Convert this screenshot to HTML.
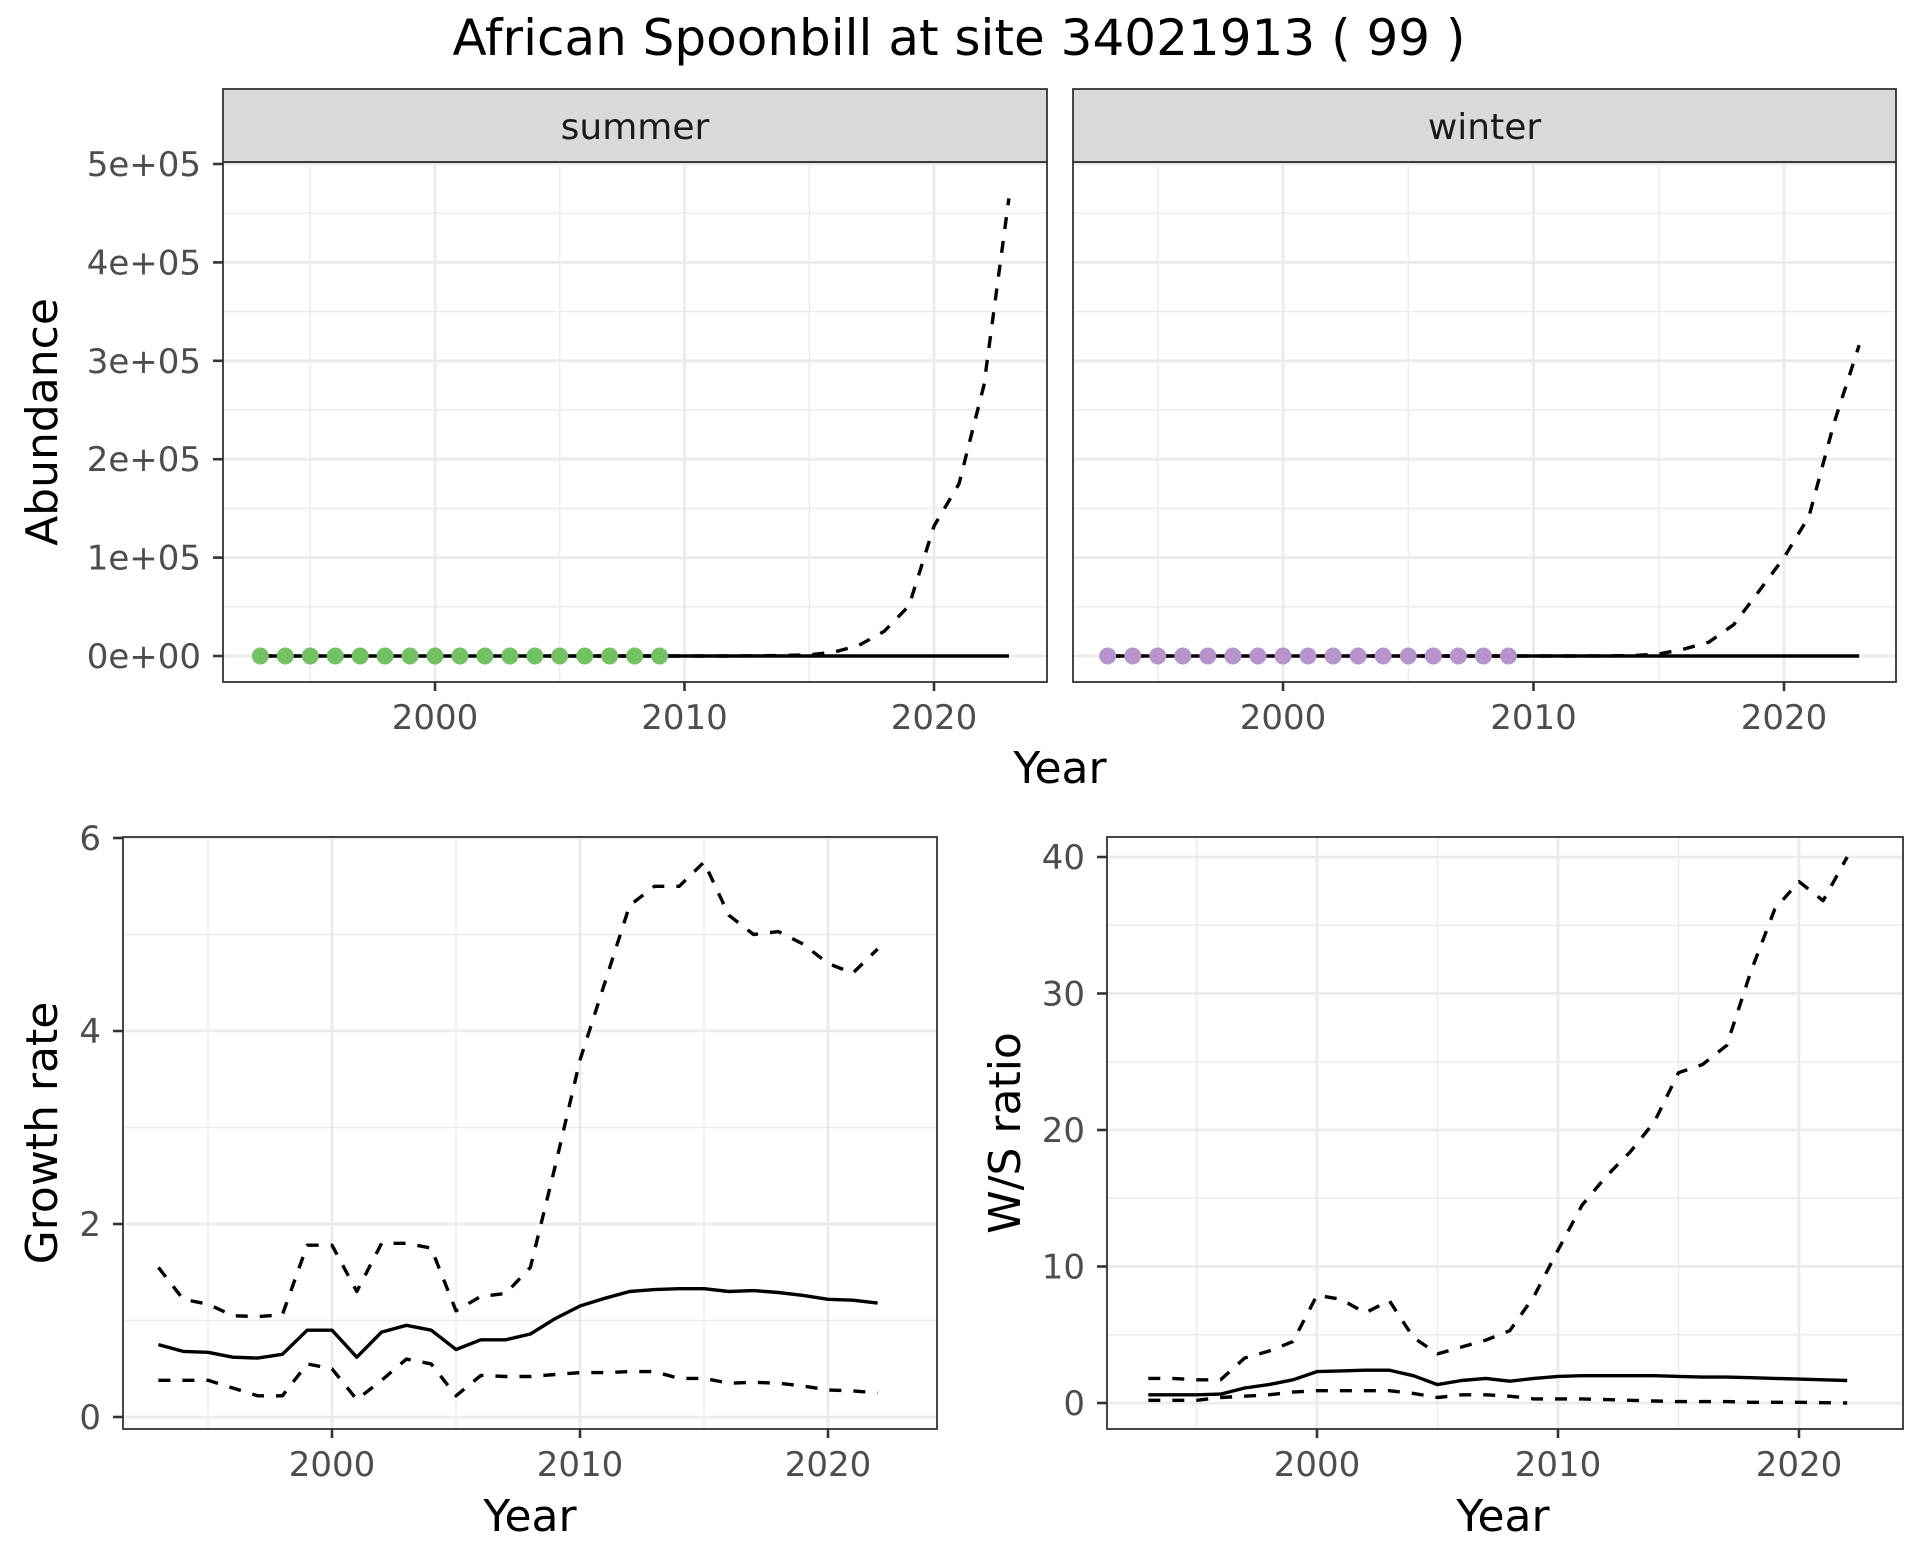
<!DOCTYPE html>
<html><head><meta charset="utf-8"><style>
html,body{margin:0;padding:0;background:#fff;}
svg{display:block;font-family:"DejaVu Sans","Liberation Sans",sans-serif;}
</style></head><body>
<svg id="chart" width="1920" height="1560" viewBox="0 0 1920 1560" xmlns="http://www.w3.org/2000/svg">
<text x="959" y="55" font-size="50" text-anchor="middle" fill="#000">African Spoonbill at site 34021913 ( 99 )</text>
</svg>
<script>
// ---- data ----
const years = [1993,1994,1995,1996,1997,1998,1999,2000,2001,2002,2003,2004,2005,2006,2007,2008,2009,2010,2011,2012,2013,2014,2015,2016,2017,2018,2019,2020,2021,2022];
const abYears = [1993,1994,1995,1996,1997,1998,1999,2000,2001,2002,2003,2004,2005,2006,2007,2008,2009,2010,2011,2012,2013,2014,2015,2016,2017,2018,2019,2020,2021,2022,2023];
const obsYears = [1993,1994,1995,1996,1997,1998,1999,2000,2001,2002,2003,2004,2005,2006,2007,2008,2009];
const obsValues = [0,0,0,0,0,0,0,0,0,0,0,0,0,0,0,0,0];
const summerMean = [0,0,0,0,0,0,0,0,0,0,0,0,0,0,0,0,0,0,0,0,0,0,0,0,0,0,0,0,0,0,0];
const summerUpper = [0,0,0,0,0,0,0,0,0,0,0,0,0,0,0,0,0,0,0,0,200,500,1200,4000,11000,25000,51000,132000,175000,275000,465000];
const winterMean = [0,0,0,0,0,0,0,0,0,0,0,0,0,0,0,0,0,0,0,0,0,0,0,0,0,0,0,0,0,0,0];
const winterUpper = [0,0,0,0,0,0,0,0,0,0,0,0,0,0,0,0,0,0,0,0,100,400,2000,7000,14000,32000,66000,100000,142000,237000,316000];
const growthMean = [0.75,0.68,0.67,0.62,0.61,0.65,0.9,0.9,0.62,0.88,0.95,0.9,0.7,0.8,0.8,0.86,1.02,1.15,1.23,1.3,1.32,1.33,1.33,1.3,1.31,1.29,1.26,1.22,1.21,1.18];
const growthUpper = [1.55,1.22,1.17,1.05,1.04,1.06,1.78,1.78,1.3,1.8,1.8,1.75,1.1,1.25,1.28,1.55,2.6,3.7,4.5,5.3,5.5,5.5,5.75,5.2,5.0,5.03,4.9,4.7,4.6,4.85];
const growthLower = [0.38,0.38,0.38,0.3,0.22,0.22,0.55,0.5,0.18,0.38,0.6,0.55,0.22,0.43,0.42,0.42,0.44,0.46,0.46,0.47,0.47,0.4,0.4,0.35,0.36,0.35,0.32,0.28,0.27,0.25];
const ratioMean = [0.6,0.6,0.6,0.65,1.1,1.35,1.7,2.3,2.35,2.4,2.4,2.0,1.35,1.65,1.8,1.6,1.8,1.95,2.0,2.0,2.0,2.0,1.95,1.9,1.9,1.85,1.8,1.75,1.7,1.65];
const ratioUpper = [1.8,1.8,1.7,1.7,3.3,3.8,4.5,7.9,7.6,6.6,7.5,4.8,3.6,4.1,4.6,5.3,7.8,11.2,14.5,16.6,18.4,20.6,24.2,24.8,26.2,31.6,36.2,38.2,36.8,40];
const ratioLower = [0.2,0.2,0.2,0.4,0.5,0.6,0.8,0.9,0.9,0.9,0.9,0.7,0.4,0.6,0.6,0.5,0.3,0.3,0.3,0.25,0.2,0.15,0.1,0.1,0.1,0.05,0.05,0.05,0.02,0.0];
const yearTicks = [2000,2010,2020];
const yearMinor = [1995,2005,2015];
const abTicks = [0,100000,200000,300000,400000,500000];
const abTickLabels = ["0e+00","1e+05","2e+05","3e+05","4e+05","5e+05"];
const growthTicks = [0,2,4,6];
const ratioTicks = [0,10,20,30,40];

const svg = document.getElementById('chart');
const NS = 'http://www.w3.org/2000/svg';
const TICK_FS = 34, AXIS_FS = 44;
function mk(tag, attrs, parent){
  const e = document.createElementNS(NS, tag);
  for (const k in attrs) e.setAttribute(k, attrs[k]);
  (parent||svg).appendChild(e);
  return e;
}
function scale(d0,d1,r0,r1){ return v => r0 + (v-d0)*(r1-r0)/(d1-d0); }

function panel(name, box, xs, ys, yMajor, yMinorVals, yLabels){
  const g = mk('g', {});
  
  
  mk('rect', {x:box.l, y:box.t, width:box.r-box.l, height:box.b-box.t, fill:'#fff'}, g);
  yMinorVals.forEach(v => { const y=ys(v); if(y>box.t && y<box.b){ const l=mk('line',{x1:box.l,x2:box.r,y1:y,y2:y,stroke:'#ebebeb','stroke-width':1.4},g);   }});
  yearMinor.forEach(v => { const x=xs(v); const l=mk('line',{x1:x,x2:x,y1:box.t,y2:box.b,stroke:'#ebebeb','stroke-width':1.4},g);   });
  yMajor.forEach(v => { const y=ys(v); const l=mk('line',{x1:box.l,x2:box.r,y1:y,y2:y,stroke:'#ebebeb','stroke-width':2.8},g);   });
  yearTicks.forEach(v => { const x=xs(v); const l=mk('line',{x1:x,x2:x,y1:box.t,y2:box.b,stroke:'#ebebeb','stroke-width':2.8},g);   });
  yearTicks.forEach(v => {
    const x=xs(v);
    mk('line',{x1:x,x2:x,y1:box.b,y2:box.b+9,stroke:'#333','stroke-width':2.6},g);
    const t=mk('text',{x:x,y:box.b+47,'font-size':TICK_FS,'text-anchor':'middle',fill:'#4d4d4d'},g);
    t.textContent=v;
    
    
  });
  if (yLabels){
    yMajor.forEach((v,i) => {
      const y=ys(v);
      mk('line',{x1:box.l-10,x2:box.l,y1:y,y2:y,stroke:'#333','stroke-width':2.6},g);
      const t=mk('text',{x:box.l-22,y:y+12,'font-size':TICK_FS,'text-anchor':'end',fill:'#4d4d4d'},g);
      t.textContent=yLabels[i];
      
      
    });
  }
  return g;
}
function border(box){
  const r=mk('rect',{x:box.l, y:box.t, width:box.r-box.l, height:box.b-box.t, fill:'none', stroke:'#333','stroke-width':1.8});
  
  
}
function line(g, xs, ys, xv, yv, dashed, name){
  const p = xv.map((x,i)=>xs(x).toFixed(1)+','+ys(yv[i]).toFixed(1)).join(' ');
  const attrs = {points:p, fill:'none', stroke:'#000','stroke-width':3.4,'stroke-linejoin':'round'};
  if (dashed) attrs['stroke-dasharray']='12,12';
  const l = mk('polyline', attrs, g);
  
  
}

// ---- top facets ----
const topY = scale(0,500000,656,164);
const abMinor = [50000,150000,250000,350000,450000,550000];
const sBox = {l:223,r:1047,t:162,b:682};
const wBox = {l:1073,r:1896,t:162,b:682};
const sX = scale(2000,2020,435,934);
const wX = scale(2000,2020,1283,1784);
const facets = [
  {box:sBox, xs:sX, mean:summerMean, upper:summerUpper, color:'#74c163', label:'summer', ylab:true},
  {box:wBox, xs:wX, mean:winterMean, upper:winterUpper, color:'#b595cc', label:'winter', ylab:false}
];
facets.forEach(f => {
  const g = panel(f.label+'-panel', f.box, f.xs, topY, abTicks, abMinor, f.ylab?abTickLabels:null);
  line(g, f.xs, topY, abYears, f.upper, true, f.label+'-upper-ci-line');
  line(g, f.xs, topY, abYears, f.mean, false, f.label+'-mean-line');
  obsYears.forEach((yr,i) => {
    const c = mk('circle',{cx:f.xs(yr), cy:topY(obsValues[i]), r:8.5, fill:f.color}, g);
    
    
  });
  border(f.box);
  const s = mk('rect',{x:f.box.l, y:89, width:f.box.r-f.box.l, height:f.box.t-89, fill:'#d9d9d9', stroke:'#333','stroke-width':1.8});
  
  
  const st = mk('text',{x:(f.box.l+f.box.r)/2, y:139, 'font-size':36,'text-anchor':'middle',fill:'#1a1a1a'});
  st.textContent = f.label;
  
  
});
let t;
t = mk('text',{x:0,y:0,'font-size':AXIS_FS,'text-anchor':'middle',fill:'#000',transform:'translate(57,422) rotate(-90)'});
t.textContent='Abundance';


t = mk('text',{x:1060,y:783,'font-size':AXIS_FS,'text-anchor':'middle',fill:'#000'});
t.textContent='Year';



// ---- growth rate ----
const gBox = {l:123,r:937,t:837,b:1429};
const gX = scale(2000,2020,332,828);
const gY = scale(0,6,1417,838);
const gg = panel('growth-rate-panel', gBox, gX, gY, growthTicks, [1,3,5], growthTicks.map(String));
line(gg, gX, gY, years, growthUpper, true, 'growth-upper-ci-line');
line(gg, gX, gY, years, growthLower, true, 'growth-lower-ci-line');
line(gg, gX, gY, years, growthMean, false, 'growth-mean-line');
border(gBox);
t = mk('text',{x:0,y:0,'font-size':AXIS_FS,'text-anchor':'middle',fill:'#000',transform:'translate(57,1133) rotate(-90)'});
t.textContent='Growth rate';


t = mk('text',{x:530,y:1531,'font-size':AXIS_FS,'text-anchor':'middle',fill:'#000'});
t.textContent='Year';



// ---- W/S ratio ----
const rBox = {l:1107,r:1903,t:837,b:1429};
const rX = scale(2000,2020,1317,1799);
const rY = scale(0,40,1403,857);
const rg = panel('ws-ratio-panel', rBox, rX, rY, ratioTicks, [5,15,25,35], ratioTicks.map(String));
line(rg, rX, rY, years, ratioUpper, true, 'ratio-upper-ci-line');
line(rg, rX, rY, years, ratioLower, true, 'ratio-lower-ci-line');
line(rg, rX, rY, years, ratioMean, false, 'ratio-mean-line');
border(rBox);
t = mk('text',{x:0,y:0,'font-size':AXIS_FS,'text-anchor':'middle',fill:'#000',transform:'translate(1020,1133) rotate(-90)'});
t.textContent='W/S ratio';


t = mk('text',{x:1503,y:1531,'font-size':AXIS_FS,'text-anchor':'middle',fill:'#000'});
t.textContent='Year';


</script>
</body></html>
